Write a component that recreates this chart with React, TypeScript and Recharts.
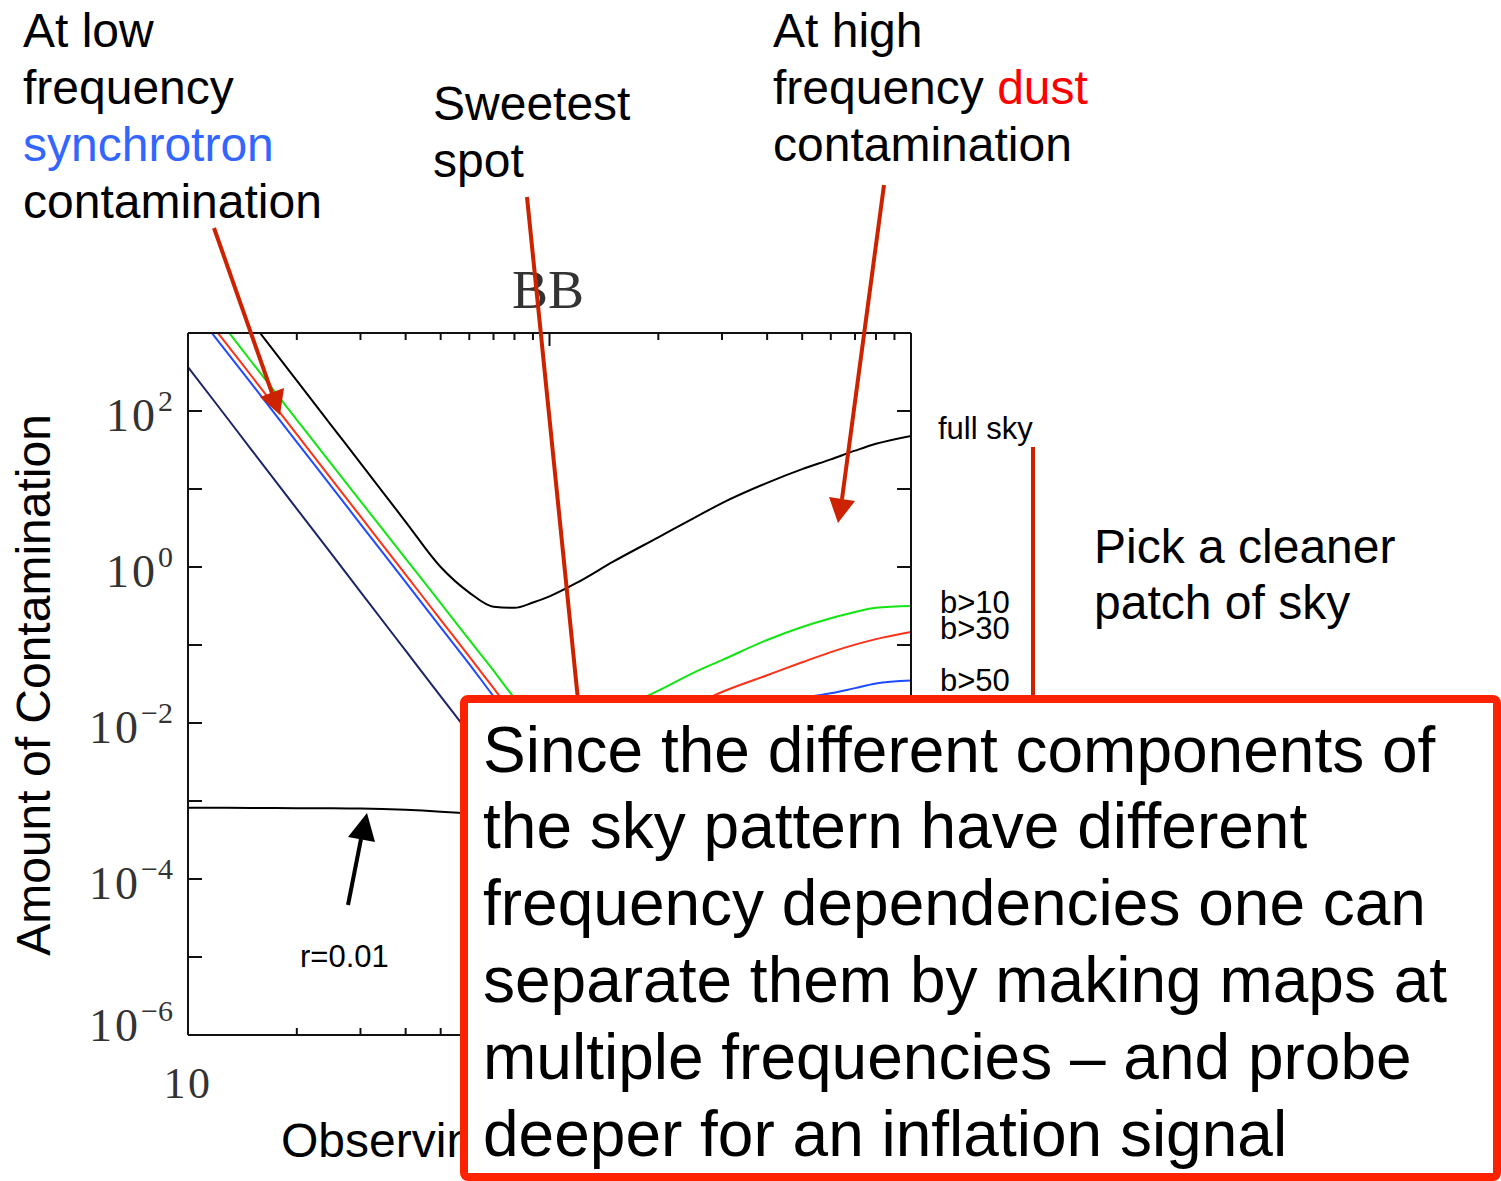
import React from "react";
import { LineChart, Line, XAxis, YAxis } from "recharts";

// observing frequency grid (GHz) and the read-off contamination levels
const FREQ = [10, 12, 15, 20, 25, 30, 40, 50, 60, 70, 80, 90, 100, 120, 150, 200, 250, 300, 400, 500, 600, 700, 800, 1000];

const FULL_SKY = [15800, 5250, 1380, 245, 64, 21.5, 3.8, 1.0, 0.47, 0.31, 0.3, 0.35, 0.42, 0.64, 1.17, 2.4, 4.2, 6.6, 12, 18, 24, 31, 38, 48];
const B_GT_10 = [4700, 1620, 425, 77, 20.5, 7.0, 1.28, 0.345, 0.116, 0.047, 0.021, 0.0125, 0.01, 0.009, 0.014, 0.026, 0.044, 0.064, 0.116, 0.17, 0.22, 0.265, 0.3, 0.316];
const B_GT_30 = [3160, 1050, 279, 50, 13.2, 4.45, 0.8, 0.21, 0.071, 0.028, 0.0128, 0.008, 0.006, 0.0055, 0.007, 0.011, 0.017, 0.025, 0.041, 0.06, 0.081, 0.101, 0.119, 0.147];
const B_GT_50 = [2500, 835, 222, 40, 10.6, 3.55, 0.64, 0.168, 0.057, 0.022, 0.01, 0.0062, 0.0048, 0.0042, 0.0045, 0.0065, 0.009, 0.012, 0.0175, 0.021, 0.024, 0.028, 0.032, 0.035];
const SYNC_FLOOR = [366, 122, 31.6, 5.56, 1.45, 0.48, 0.0845, 0.022, 0.0073, 0.0029, 0.00129, 0.00063, 0.00034, 0.000112, 0.000029];
const R_001 = [8.2e-4, 8.2e-4, 8.15e-4, 8.1e-4, 8.05e-4, 8.0e-4, 7.7e-4, 7.3e-4, 6.9e-4, 6.6e-4, 6.4e-4, 6.2e-4, 6.0e-4, 5.5e-4, 5.0e-4, 4.0e-4, 3.5e-4, 3.0e-4, 2.5e-4, 2.0e-4, 1.7e-4, 1.5e-4, 1.3e-4, 1.0e-4];

const X_MAJOR = [10, 100, 1000];
const X_MINOR = [20, 30, 40, 50, 60, 70, 80, 90, 200, 300, 400, 500, 600, 700, 800, 900];
const X_TICKS = [...X_MAJOR, ...X_MINOR].sort((a, b) => a - b);
const X_LABELED = [10]; // 100 and 1000 sit under the text box
const Y_TICKS = [1e-6, 1e-5, 1e-4, 1e-3, 1e-2, 1e-1, 1, 10, 100, 1000];

const SANS = "Liberation Sans, Arial, Helvetica, sans-serif";
const SERIF = "Liberation Serif, Times New Roman, serif";
const ARROW_RED = "#cc2200";
const BOX_RED = "#ff2200";

const data = FREQ.map((f, i) => ({
  freq: f,
  fullSky: FULL_SKY[i],
  b10: B_GT_10[i],
  b30: B_GT_30[i],
  b50: B_GT_50[i],
  floor: SYNC_FLOOR[i] ?? null,
  r001: R_001[i],
}));

const isMajorX = (v: number) => X_MAJOR.includes(v);
const expOf = (v: number) => Math.round(Math.log10(v));

function BottomTick({ x, y, payload }: any) {
  const v = payload.value;
  const len = isMajorX(v) ? 13 : 7;
  return (
    <g>
      <line x1={x} x2={x} y1={y} y2={y - len} stroke="#111" strokeWidth={2} />
      {X_LABELED.includes(v) && (
        <text x={x} y={y + 63} textAnchor="middle" fontFamily={SERIF} fontSize={44} letterSpacing={2.5} fill="#333">
          {v}
        </text>
      )}
    </g>
  );
}

function TopTick({ x, y, payload }: any) {
  const len = isMajorX(payload.value) ? 13 : 7;
  return <line x1={x} x2={x} y1={y} y2={y + len} stroke="#111" strokeWidth={2} />;
}

function LeftTick({ x, y, payload }: any) {
  const e = expOf(payload.value);
  const shift = e === -6 ? -14 : 0;
  return (
    <g>
      <line x1={x} x2={x + 14} y1={y} y2={y} stroke="#111" strokeWidth={2} />
      {e % 2 === 0 && (
        <text x={x - 15} y={y + 20 + shift} textAnchor="end" fontFamily={SERIF} fontSize={46} letterSpacing={3} fill="#333">
          10
          <tspan fontSize={30} dy={-20} letterSpacing={0}>
            {e < 0 ? `\u2212${-e}` : `${e}`}
          </tspan>
        </text>
      )}
    </g>
  );
}

function RightTick({ x, y }: any) {
  return <line x1={x} x2={x - 14} y1={y} y2={y} stroke="#111" strokeWidth={2} />;
}

function Annotations() {
  const t = { fontFamily: SANS, fontSize: 48, fill: "#000" };
  const small = { fontFamily: SANS, fontSize: 31, fill: "#000" };
  return (
    <svg width={1501} height={1181} style={{ position: "absolute", left: 0, top: 0, pointerEvents: "none" }}>
      {/* axis titles */}
      <text transform="translate(50,685) rotate(-90)" textAnchor="middle" {...t}>
        Amount of Contamination
      </text>
      <text x={281} y={1157} {...t}>Observing Frequency (GHz)</text>
      <text x={548} y={308} textAnchor="middle" fontFamily={SERIF} fontSize={54} fill="#333">BB</text>

      {/* callouts */}
      <text {...t}>
        <tspan x={23} y={47}>At low</tspan>
        <tspan x={23} y={104}>frequency</tspan>
        <tspan x={23} y={161} fill="#3366ff">synchrotron</tspan>
        <tspan x={23} y={218}>contamination</tspan>
      </text>
      <text {...t}>
        <tspan x={433} y={120}>Sweetest</tspan>
        <tspan x={433} y={177}>spot</tspan>
      </text>
      <text {...t}>
        <tspan x={773} y={47}>At high</tspan>
        <tspan x={773} y={104}>frequency <tspan fill="#ff0000">dust</tspan></tspan>
        <tspan x={773} y={161}>contamination</tspan>
      </text>
      <text {...t}>
        <tspan x={1094} y={563}>Pick a cleaner</tspan>
        <tspan x={1094} y={619}>patch of sky</tspan>
      </text>

      <text x={938} y={439} {...small}>full sky</text>
      <text x={940} y={613} {...small}>b&gt;10</text>
      <text x={940} y={639} {...small}>b&gt;30</text>
      <text x={940} y={691} {...small}>b&gt;50</text>
      <text x={300} y={967} {...small}>r=0.01</text>

      {/* arrows */}
      <line x1={214} y1={228} x2={272} y2={393} stroke={ARROW_RED} strokeWidth={4} />
      <polygon points="260,397 284,388 280,415" fill={ARROW_RED} />
      <line x1={527} y1={197} x2={578} y2={700} stroke={ARROW_RED} strokeWidth={4} />
      <line x1={884} y1={185} x2={842} y2={499} stroke={ARROW_RED} strokeWidth={4} />
      <polygon points="829,497 855,501 838,523" fill={ARROW_RED} />
      <line x1={1033} y1={447} x2={1033} y2={700} stroke={ARROW_RED} strokeWidth={4} />
      <line x1={348} y1={905} x2={361} y2={839} stroke="#000" strokeWidth={4} />
      <polygon points="348,837 375,842 367,813" fill="#000" />

      {/* explanation box */}
      <rect x={464} y={699} width={1033} height={478} rx={4} fill="#fff" stroke={BOX_RED} strokeWidth={8} />
      <text {...t} fontSize={64}>
        <tspan x={483} y={772}>Since the different components of</tspan>
        <tspan x={483} y={848}>the sky pattern have different</tspan>
        <tspan x={483} y={925}>frequency dependencies one can</tspan>
        <tspan x={483} y={1002}>separate them by making maps at</tspan>
        <tspan x={483} y={1079}>multiple frequencies – and probe</tspan>
        <tspan x={483} y={1156}>deeper for an inflation signal</tspan>
      </text>
    </svg>
  );
}

export default function App() {
  const axisLine = { stroke: "#111", strokeWidth: 2 };
  return (
    <div style={{ position: "absolute", left: 0, top: 0, width: 1501, height: 1181, background: "#fff" }}>
      <LineChart width={1501} height={1181} data={data} margin={{ top: 0, right: 0, bottom: 0, left: 0 }}>
        <XAxis
          xAxisId="b"
          dataKey="freq"
          type="number"
          scale="log"
          domain={[10, 1000]}
          allowDataOverflow
          ticks={X_TICKS}
          interval={0}
          orientation="bottom"
          height={146}
          tickSize={0}
          tickMargin={0}
          tickLine={false}
          axisLine={axisLine}
          tick={(p: any) => <BottomTick {...p} />}
        />
        <XAxis
          xAxisId="t"
          dataKey="freq"
          type="number"
          scale="log"
          domain={[10, 1000]}
          allowDataOverflow
          ticks={X_TICKS}
          interval={0}
          orientation="top"
          height={333}
          tickSize={0}
          tickMargin={0}
          tickLine={false}
          axisLine={axisLine}
          tick={(p: any) => <TopTick {...p} />}
        />
        <YAxis
          yAxisId="l"
          type="number"
          scale="log"
          domain={[1e-6, 1e3]}
          allowDataOverflow
          ticks={Y_TICKS}
          interval={0}
          orientation="left"
          width={188}
          tickSize={0}
          tickMargin={0}
          tickLine={false}
          axisLine={axisLine}
          tick={(p: any) => <LeftTick {...p} />}
        />
        <YAxis
          yAxisId="r"
          type="number"
          scale="log"
          domain={[1e-6, 1e3]}
          allowDataOverflow
          ticks={Y_TICKS}
          interval={0}
          orientation="right"
          width={590}
          tickSize={0}
          tickMargin={0}
          tickLine={false}
          axisLine={axisLine}
          tick={(p: any) => <RightTick {...p} />}
        />
        <Line xAxisId="b" yAxisId="l" dataKey="floor" type="monotone" stroke="#1c2468" strokeWidth={2} dot={false} activeDot={false} isAnimationActive={false} />
        <Line xAxisId="b" yAxisId="l" dataKey="b50" type="monotone" stroke="#1f4bff" strokeWidth={2} dot={false} activeDot={false} isAnimationActive={false} />
        <Line xAxisId="b" yAxisId="l" dataKey="b30" type="monotone" stroke="#ff3018" strokeWidth={2} dot={false} activeDot={false} isAnimationActive={false} />
        <Line xAxisId="b" yAxisId="l" dataKey="b10" type="monotone" stroke="#11e611" strokeWidth={2} dot={false} activeDot={false} isAnimationActive={false} />
        <Line xAxisId="b" yAxisId="l" dataKey="fullSky" type="monotone" stroke="#000" strokeWidth={2} dot={false} activeDot={false} isAnimationActive={false} />
        <Line xAxisId="b" yAxisId="l" dataKey="r001" type="monotone" stroke="#000" strokeWidth={2} dot={false} activeDot={false} isAnimationActive={false} />
      </LineChart>
      <Annotations />
    </div>
  );
}
